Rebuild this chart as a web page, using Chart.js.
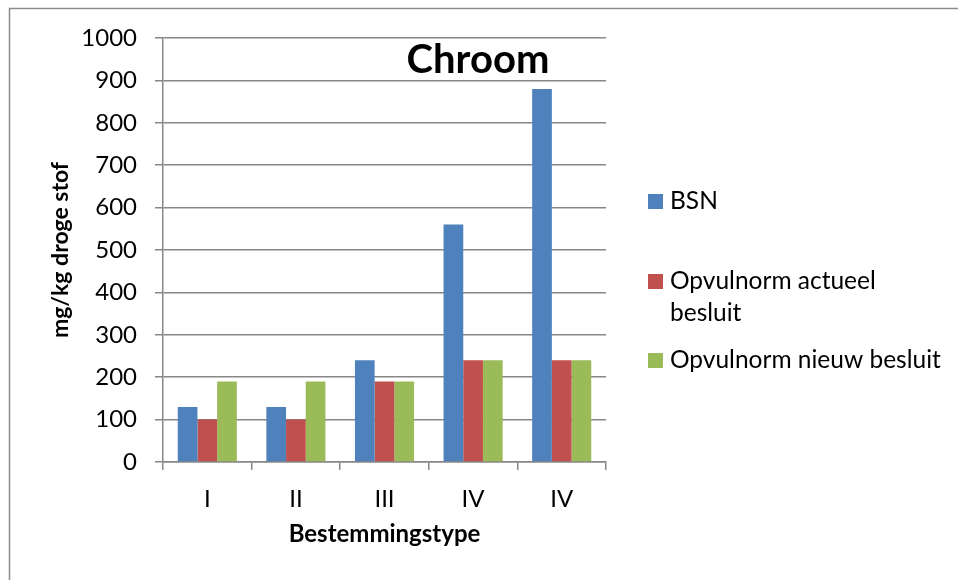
<!DOCTYPE html>
<html lang="nl">
<head>
  <meta charset="UTF-8">
  <title>Chroom</title>
  <script src="https://cdn.jsdelivr.net/npm/chart.js"></script>
  <style>
    body { margin: 0; background: #fff; }
    canvas { display: block; }
  </style>
</head>
<body>
  <canvas id="chroomChart" width="958" height="580"></canvas>

  <script>
    // data
    const categories = ['I', 'II', 'III', 'IV', 'IV'];
    const bsn = [130, 130, 240, 560, 880];
    const opvulActueel = [100, 100, 190, 240, 240];
    const opvulNieuw = [190, 190, 190, 240, 240];
    const seriesNames = ['BSN', 'Opvulnorm actueel besluit', 'Opvulnorm nieuw besluit'];
    const legendLines = [['BSN'], ['Opvulnorm actueel', 'besluit'], ['Opvulnorm nieuw besluit']];
    const yTicks = [0, 100, 200, 300, 400, 500, 600, 700, 800, 900, 1000];

    const gridGray = '#878787';
    const fontName = 'Lato';

    // title, legend and outer frame drawn by hand
    const extras = {
      id: 'extras',
      afterDraw(chart) {
        const c = chart.ctx;
        c.save();
        c.strokeStyle = '#8c8c8c';
        c.lineWidth = 1.5;
        c.beginPath();
        c.moveTo(9.5, 580);
        c.lineTo(9.5, 8.5);
        c.lineTo(958, 8.5);
        c.stroke();

        c.fillStyle = '#000';
        c.font = 'bold 40px ' + fontName;
        c.textAlign = 'center';
        c.textBaseline = 'middle';
        c.fillText('Chroom', 478, 60);

        const rowY = [[201], [281, 313], [360]];
        c.font = '24.5px ' + fontName;
        c.textAlign = 'left';
        chart.data.datasets.forEach((ds, i) => {
          c.fillStyle = ds.backgroundColor;
          c.fillRect(648, rowY[i][0] - 7, 15, 15);
          c.fillStyle = '#000';
          legendLines[i].forEach((t, j) => c.fillText(t, 670, rowY[i][j]));
        });
        c.restore();
      }
    };

    const ctx = document.getElementById('chroomChart').getContext('2d');
    const chart = new Chart(ctx, {
      type: 'bar',
      data: {
        labels: categories,
        datasets: [
          { label: seriesNames[0], data: bsn, backgroundColor: '#4F81BD' },
          { label: seriesNames[1], data: opvulActueel, backgroundColor: '#C0504D' },
          { label: seriesNames[2], data: opvulNieuw, backgroundColor: '#9BBB59' }
        ]
      },
      options: {
        responsive: false,
        animation: false,
        categoryPercentage: 0.667,
        barPercentage: 1,
        layout: { padding: { left: 10, top: 38, right: 352, bottom: 0 } },
        plugins: {
          legend: { display: false },
          tooltip: { enabled: false }
        },
        scales: {
          x: {
            afterFit(s) { s.height = 118; },
            grid: {
              offset: true,
              drawOnChartArea: false,
              drawTicks: true,
              tickLength: 8,
              color: gridGray,
              lineWidth: 1.5
            },
            border: { color: gridGray, width: 1.5 },
            ticks: { color: '#000', padding: 15, font: { family: fontName, size: 24 } },
            title: {
              display: true,
              text: 'Bestemmingstype',
              color: '#000',
              font: { family: fontName, size: 24, weight: 'bold' },
              padding: { top: 0, bottom: 31 }
            }
          },
          y: {
            min: 0,
            max: 1000,
            afterFit(s) { s.width = 153; },
            afterBuildTicks(s) { s.ticks = yTicks.map(v => ({ value: v })); },
            grid: {
              color: gridGray,
              lineWidth: 1.5,
              drawTicks: true,
              tickLength: 8
            },
            border: { color: gridGray, width: 1.5 },
            ticks: {
              color: '#000',
              padding: 18,
              font: { family: fontName, size: 24 },
              callback: v => String(v)
            },
            title: {
              display: true,
              text: 'mg/kg droge stof',
              color: '#000',
              font: { family: fontName, size: 23, weight: 'bold' },
              padding: { top: 37, bottom: 0 }
            }
          }
        }
      },
      plugins: [extras]
    });
  </script>
</body>
</html>
